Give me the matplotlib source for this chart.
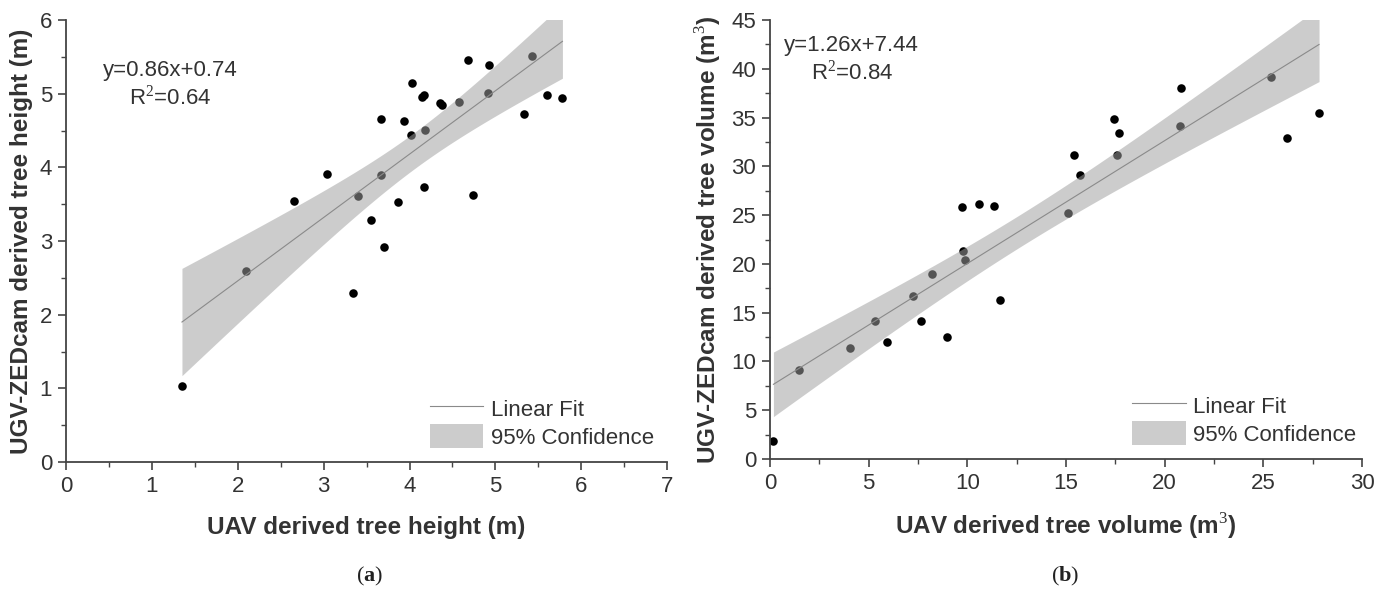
import matplotlib.pyplot as plt
import numpy as np
from matplotlib.patches import Patch
from matplotlib.lines import Line2D
from matplotlib.ticker import MultipleLocator

plt.rcParams['font.family'] = ['Liberation Sans', 'DejaVu Sans']
plt.rcParams['mathtext.fontset'] = 'custom'
plt.rcParams['mathtext.rm'] = 'Liberation Serif'
plt.rcParams['mathtext.bf'] = 'Liberation Serif:bold'

# (a) tree height, UAV vs UGV-ZEDcam (m)
height_uav = [1.35, 2.10, 2.66, 3.04, 3.34, 3.40, 3.55, 3.67, 3.67, 3.70,
              3.86, 3.93, 4.02, 4.03, 4.14, 4.17, 4.17, 4.18, 4.35, 4.38,
              4.57, 4.68, 4.74, 4.91, 4.92, 5.33, 5.43, 5.60, 5.78]
height_ugv = [1.03, 2.60, 3.54, 3.91, 2.30, 3.61, 3.29, 3.90, 4.65, 2.92,
              3.53, 4.63, 4.44, 5.15, 4.96, 4.98, 3.74, 4.51, 4.87, 4.85,
              4.89, 5.46, 3.62, 5.01, 5.39, 4.72, 5.51, 4.98, 4.94]
height_fit = (0.86, 0.74)

# (b) tree volume, UAV vs UGV-ZEDcam (m3)
volume_uav = [0.17, 1.46, 4.06, 5.34, 5.92, 7.26, 7.67, 8.22, 8.97, 9.75,
              9.77, 9.87, 10.57, 11.36, 11.67, 15.11, 15.38, 15.73, 17.44,
              17.58, 17.66, 20.78, 20.82, 25.39, 26.22, 27.82]
volume_ugv = [1.89, 9.10, 11.34, 14.12, 12.02, 16.66, 14.15, 19.00, 12.54,
              25.87, 21.30, 20.44, 26.11, 25.94, 16.32, 25.18, 31.12, 29.13,
              34.87, 31.19, 33.43, 34.18, 37.99, 39.13, 32.94, 35.49]
volume_fit = (1.26, 7.44)

T_95 = 2.05  # two-sided t value, ~27 df

text_col = '#333333'
axis_col = '#444444'
FS = 16
LFS = 17.5  # axis titles


def draw_panel(ax, x, y, fit, eq, r2, eq_pos, leg_x, xlim, ylim, xmaj, ymaj):
    x = np.array(x)
    y = np.array(y)
    slope, icpt = fit
    n = len(x)
    resid = y - (slope * x + icpt)
    s = np.sqrt(np.sum(resid ** 2) / (n - 2))
    xm = x.mean()
    sxx = np.sum((x - xm) ** 2)
    xs = np.linspace(x.min(), x.max(), 200)
    ys = slope * xs + icpt
    half = T_95 * s * np.sqrt(1.0 / n + (xs - xm) ** 2 / sxx)

    ax.scatter(x, y, s=38, color='black', zorder=2, linewidths=0)
    ax.fill_between(xs, ys - half, ys + half, color='#a0a0a0', alpha=0.53,
                    linewidth=0, zorder=3)
    ax.plot(xs, ys, color='#8a8a8a', lw=0.8, zorder=4)

    ax.set_xlim(*xlim)
    ax.set_ylim(*ylim)
    ax.xaxis.set_major_locator(MultipleLocator(xmaj))
    ax.xaxis.set_minor_locator(MultipleLocator(xmaj / 2))
    ax.yaxis.set_major_locator(MultipleLocator(ymaj))
    ax.yaxis.set_minor_locator(MultipleLocator(ymaj / 2))
    for side in ['top', 'right']:
        ax.spines[side].set_visible(False)
    for side in ['left', 'bottom']:
        ax.spines[side].set_color(axis_col)
        ax.spines[side].set_linewidth(1.3)
    ax.tick_params(which='major', direction='out', length=6, width=1.2,
                   color=axis_col, labelsize=FS, labelcolor=text_col, pad=4)
    ax.tick_params(which='minor', direction='out', length=3.5, width=1.0,
                   color=axis_col)

    ax.text(eq_pos[0], eq_pos[1], eq + '\n' + r2, transform=ax.transAxes,
            ha='center', va='center', fontsize=FS, color=text_col,
            linespacing=1.2)

    handles = [Line2D([], [], color='#8a8a8a', lw=0.8),
               Patch(facecolor='#cccccc', edgecolor='none')]
    ax.legend(handles, ['Linear Fit', '95% Confidence'], loc='lower right',
              bbox_to_anchor=(leg_x, 0.0), frameon=False, fontsize=FS,
              handlelength=2.4, handleheight=1.3, labelspacing=0.15,
              handletextpad=0.35, borderaxespad=0.2, labelcolor=text_col)


fig = plt.figure(figsize=(13.9, 5.89), dpi=100)
ax1 = fig.add_axes([0.0475, 0.2155, 0.4325, 0.7505])
ax2 = fig.add_axes([0.554, 0.2207, 0.4259, 0.7453])

draw_panel(ax1, height_uav, height_ugv, height_fit, 'y=0.86x+0.74',
           r'R$^2$=0.64', (0.173, 0.853), 1.0, (0, 7), (0, 6), 1, 1)
ax1.set_xlabel('UAV derived tree height (m)', fontsize=LFS, fontweight='bold',
               color=text_col, labelpad=14)
ax1.set_ylabel('UGV-ZEDcam derived tree height (m)', fontsize=LFS,
               fontweight='bold', color=text_col, labelpad=5)

draw_panel(ax2, volume_uav, volume_ugv, volume_fit, 'y=1.26x+7.44',
           r'R$^2$=0.84', (0.138, 0.909), 1.013, (0, 30), (0, 45), 5, 5)
ax2.set_xlabel(r'UAV derived tree volume (m$^3$)', fontsize=LFS,
               fontweight='bold', color=text_col, labelpad=13)
ax2.set_ylabel(r'UGV-ZEDcam derived tree volume (m$^3$)', fontsize=LFS,
               fontweight='bold', color=text_col, labelpad=5)

fig.text(0.266, 0.002, r'$\mathrm{(}\mathbf{a}\mathrm{)}$', ha='center',
         va='bottom', fontsize=16, color='#222222')
fig.text(0.766, 0.002, r'$\mathrm{(}\mathbf{b}\mathrm{)}$', ha='center',
         va='bottom', fontsize=16, color='#222222')

fig.savefig('out.png', dpi=100)
